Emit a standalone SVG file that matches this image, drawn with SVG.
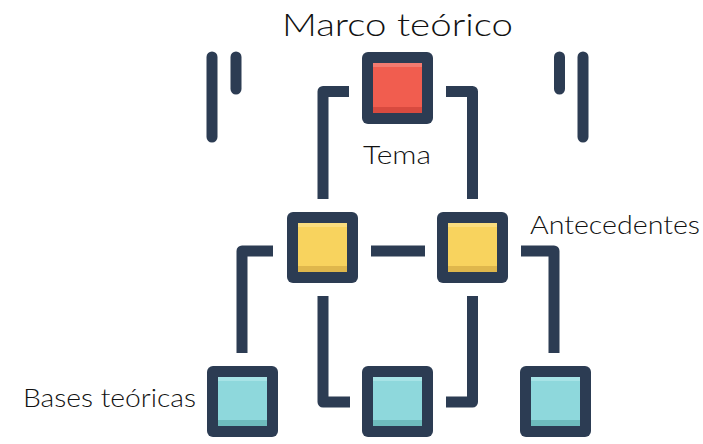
<svg xmlns="http://www.w3.org/2000/svg" width="703" height="444" viewBox="0 0 703 444">
<style>
.ln{fill:none;stroke:#2c3c53;stroke-width:11;stroke-linejoin:round;stroke-linecap:butt}
.bar{fill:none;stroke:#2c3c53;stroke-width:11;stroke-linecap:round}
.frame{fill:#2c3c53}
.t{font-family:Lato,"Liberation Sans",sans-serif;font-weight:300;fill:#111111}
</style>
<defs>
<g id="redbox">
<rect class="frame" x="0" y="0" width="71" height="72" rx="6"/>
<rect x="11" y="11" width="49" height="50" fill="#f15d4f"/>
<rect x="11" y="11" width="49" height="4" fill="#f47b70"/>
<rect x="11" y="55" width="49" height="6" fill="#d84a3f"/>
</g>
<g id="yelbox">
<rect class="frame" x="0" y="0" width="71" height="71" rx="6"/>
<rect x="11" y="11" width="49" height="49" fill="#f8d35e"/>
<rect x="11" y="11" width="49" height="4" fill="#fadd7e"/>
<rect x="11" y="54" width="49" height="6" fill="#dfb74c"/>
</g>
<g id="tealbox">
<rect class="frame" x="0" y="0" width="71" height="71" rx="6"/>
<rect x="11" y="11" width="49" height="49" fill="#8ed8dc"/>
<rect x="11" y="11" width="49" height="4" fill="#a7e3e6"/>
<rect x="11" y="54" width="49" height="6" fill="#6ebcbd"/>
</g>
</defs>
<rect width="703" height="444" fill="#ffffff"/>
<g id="connectors">
<polyline class="ln" points="349,91.5 323,91.5 323,199"/>
<polyline class="ln" points="446,91.5 472.5,91.5 472.5,199"/>
<line class="ln" x1="371" y1="251" x2="425" y2="251"/>
<polyline class="ln" points="273,251 242,251 242,353"/>
<polyline class="ln" points="521,251 554,251 554,353"/>
<polyline class="ln" points="323,296 323,402 350,402"/>
<polyline class="ln" points="472.5,296 472.5,402 446,402"/>
</g>
<g id="decor">
<line class="bar" x1="212" y1="57" x2="212" y2="137"/>
<line class="bar" x1="236" y1="57" x2="236" y2="89"/>
<line class="bar" x1="559.5" y1="57" x2="559.5" y2="89"/>
<line class="bar" x1="583" y1="57" x2="583" y2="137"/>
</g>
<g id="title"><text class="t" x="282" y="36" font-size="32" textLength="231" lengthAdjust="spacingAndGlyphs">Marco teórico</text></g>
<g id="tema"><use href="#redbox" x="362" y="52"/><text class="t" x="363" y="164" font-size="26" textLength="68" lengthAdjust="spacingAndGlyphs">Tema</text></g>
<g id="antecedentes-left"><use href="#yelbox" x="287" y="212"/></g>
<g id="antecedentes"><use href="#yelbox" x="437" y="212"/><text class="t" x="530" y="234" font-size="25" textLength="170" lengthAdjust="spacingAndGlyphs">Antecedentes</text></g>
<g id="bases"><use href="#tealbox" x="207" y="366"/><text class="t" x="23" y="407" font-size="26" textLength="173" lengthAdjust="spacingAndGlyphs">Bases teóricas</text></g>
<g id="base-mid"><use href="#tealbox" x="362" y="366"/></g>
<g id="base-right"><use href="#tealbox" x="520" y="366"/></g>
</svg>
